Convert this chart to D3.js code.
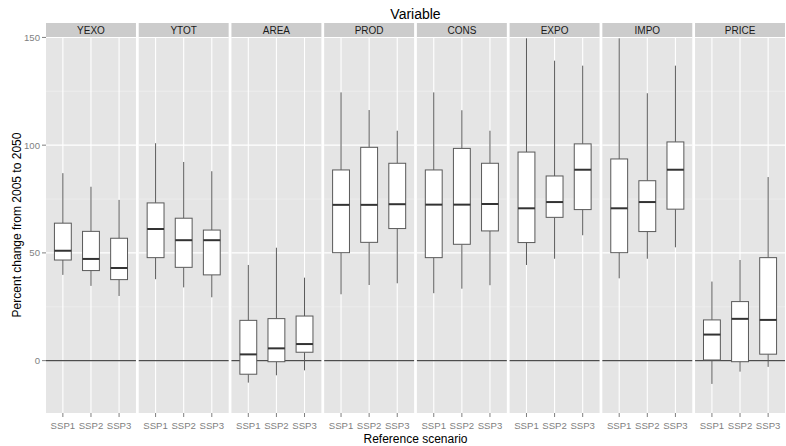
<!DOCTYPE html>
<html>
<head>
<meta charset="utf-8">
<script src="https://cdn.jsdelivr.net/npm/d3@7"></script>
<style>
  html, body { margin: 0; padding: 0; background: #ffffff; }
  svg { display: block; font-family: "Liberation Sans", Arial, sans-serif; }
</style>
</head>
<body>
<svg id="chart" width="786" height="446"></svg>
<script>
// ---- Data ----
const variables = ["YEXO", "YTOT", "AREA", "PROD", "CONS", "EXPO", "IMPO", "PRICE"];
const scenarios = ["SSP1", "SSP2", "SSP3"];
const yTicks = [0, 50, 100, 150];
const yMinorTicks = [25, 75, 125];

// one row per variable, one column per scenario
const whiskerLow = [
  [39.8, 34.7, 30.0],
  [37.8, 34.0, 29.4],
  [-10.2, -6.8, -4.5],
  [30.8, 35.1, 35.9],
  [31.3, 33.4, 35.0],
  [44.4, 47.3, 58.2],
  [38.2, 47.3, 52.6],
  [-10.8, -5.1, -2.9]
];
const q1 = [
  [46.7, 41.8, 37.6],
  [47.8, 43.3, 39.8],
  [-6.3, -0.5, 3.9],
  [50.1, 54.9, 61.3],
  [47.8, 54.0, 60.2],
  [54.8, 66.5, 70.1],
  [50.1, 59.9, 70.3],
  [0.3, -0.5, 3.0]
];
const median = [
  [51.0, 47.2, 43.0],
  [61.1, 55.9, 55.9],
  [2.9, 5.7, 7.7],
  [72.3, 72.3, 72.6],
  [72.4, 72.4, 72.7],
  [70.7, 73.6, 88.6],
  [70.7, 73.6, 88.6],
  [12.1, 19.4, 18.9]
];
const q3 = [
  [63.8, 60.0, 56.8],
  [73.2, 66.1, 60.6],
  [18.7, 19.5, 20.7],
  [88.5, 99.0, 91.6],
  [88.5, 98.5, 91.6],
  [96.8, 85.7, 100.6],
  [93.6, 83.5, 101.5],
  [18.9, 27.4, 47.8]
];
const whiskerHigh = [
  [87.0, 80.7, 74.6],
  [100.9, 92.2, 87.9],
  [44.4, 52.4, 38.5],
  [124.5, 116.3, 106.7],
  [124.5, 116.2, 106.7],
  [149.6, 139.2, 136.9],
  [149.6, 124.1, 136.9],
  [36.7, 46.7, 85.2]
];

// ---- Layout ----
const svg = d3.select("#chart");
const plotLeft = 46, plotRight = 785;
const stripTop = 23, stripBottom = 37;
const panelTop = 37, panelBottom = 413;

const fx = d3.scaleBand().domain(variables).range([plotLeft, plotRight])
  .paddingInner(0.03).paddingOuter(0);
const y = d3.scaleLinear().domain([-24.3, 150.2]).range([panelBottom, panelTop]);
const x = d3.scalePoint().domain(scenarios).range([0, fx.bandwidth()]).padding(0.6);
const boxW = x.step() * 0.6;

const rows = [];
variables.forEach((v, i) => scenarios.forEach((s, j) => rows.push({
  v, s, lo: whiskerLow[i][j], q1: q1[i][j], med: median[i][j], q3: q3[i][j], hi: whiskerHigh[i][j]
})));

// title
svg.append("text").attr("x", (plotLeft + plotRight) / 2).attr("y", 19)
  .attr("text-anchor", "middle").attr("font-size", 14).attr("fill", "#000")
  .text("Variable");

const panels = svg.selectAll("g.panel").data(variables).join("g")
  .attr("class", "panel")
  .attr("transform", d => `translate(${fx(d)},0)`);

// strips
panels.append("rect").attr("x", 0).attr("y", stripTop)
  .attr("width", fx.bandwidth()).attr("height", stripBottom - stripTop)
  .attr("fill", "#cccccc");
panels.append("text").attr("x", fx.bandwidth() / 2).attr("y", stripTop + 10.5)
  .attr("text-anchor", "middle").attr("font-size", 10).attr("fill", "#1a1a1a")
  .text(d => d);

// panel background
panels.append("rect").attr("x", 0).attr("y", panelTop)
  .attr("width", fx.bandwidth()).attr("height", panelBottom - panelTop)
  .attr("fill", "#e5e5e5");

// minor grid
panels.each(function () {
  const g = d3.select(this);
  g.selectAll("line.minor").data(yMinorTicks).join("line")
    .attr("x1", 0).attr("x2", fx.bandwidth())
    .attr("y1", d => y(d)).attr("y2", d => y(d))
    .attr("stroke", "#f2f2f2").attr("stroke-width", 0.6);
  g.selectAll("line.major").data(yTicks).join("line")
    .attr("x1", 0).attr("x2", fx.bandwidth())
    .attr("y1", d => y(d)).attr("y2", d => y(d))
    .attr("stroke", "#ffffff").attr("stroke-width", 1.1);
  g.selectAll("line.vmajor").data(scenarios).join("line")
    .attr("x1", d => x(d)).attr("x2", d => x(d))
    .attr("y1", panelTop).attr("y2", panelBottom)
    .attr("stroke", "#ffffff").attr("stroke-width", 1.1);
  // reference line at 0
  g.append("line").attr("x1", 0).attr("x2", fx.bandwidth())
    .attr("y1", y(0)).attr("y2", y(0))
    .attr("stroke", "#4d4d4d").attr("stroke-width", 1.1);
  // x axis ticks & labels
  g.selectAll("line.xtick").data(scenarios).join("line")
    .attr("x1", d => x(d)).attr("x2", d => x(d))
    .attr("y1", panelBottom).attr("y2", panelBottom + 4)
    .attr("stroke", "#7f7f7f").attr("stroke-width", 1);
  g.selectAll("text.xlab").data(scenarios).join("text")
    .attr("x", d => x(d)).attr("y", panelBottom + 16)
    .attr("text-anchor", "middle").attr("font-size", 9.6).attr("fill", "#7f7f7f")
    .text(d => d);
});

// boxplots
const boxes = panels.selectAll("g.box")
  .data(v => rows.filter(r => r.v === v)).join("g")
  .attr("class", "box")
  .attr("transform", d => `translate(${x(d.s)},0)`);

boxes.append("line").attr("x1", 0).attr("x2", 0)
  .attr("y1", d => y(d.hi)).attr("y2", d => y(d.q3))
  .attr("stroke", "#595959").attr("stroke-width", 1);
boxes.append("line").attr("x1", 0).attr("x2", 0)
  .attr("y1", d => y(d.q1)).attr("y2", d => y(d.lo))
  .attr("stroke", "#595959").attr("stroke-width", 1);
boxes.append("rect").attr("x", -boxW / 2).attr("width", boxW)
  .attr("y", d => y(d.q3)).attr("height", d => y(d.q1) - y(d.q3))
  .attr("fill", "#ffffff").attr("stroke", "#595959").attr("stroke-width", 1);
boxes.append("line").attr("x1", -boxW / 2).attr("x2", boxW / 2)
  .attr("y1", d => y(d.med)).attr("y2", d => y(d.med))
  .attr("stroke", "#333333").attr("stroke-width", 2);

// y axis
const yAxisG = svg.append("g");
yAxisG.selectAll("line").data(yTicks).join("line")
  .attr("x1", plotLeft - 4).attr("x2", plotLeft)
  .attr("y1", d => y(d)).attr("y2", d => y(d))
  .attr("stroke", "#7f7f7f").attr("stroke-width", 1);
yAxisG.selectAll("text").data(yTicks).join("text")
  .attr("x", plotLeft - 6).attr("y", d => y(d) + 3.5)
  .attr("text-anchor", "end").attr("font-size", 9.6).attr("fill", "#7f7f7f")
  .text(d => d);

// axis titles
svg.append("text").attr("x", (plotLeft + plotRight) / 2).attr("y", 443)
  .attr("text-anchor", "middle").attr("font-size", 12).attr("fill", "#000")
  .text("Reference scenario");
svg.append("text")
  .attr("transform", `translate(21,${(panelTop + panelBottom) / 2}) rotate(-90)`)
  .attr("text-anchor", "middle").attr("font-size", 12).attr("fill", "#000")
  .text("Percent change from 2005 to 2050");
</script>
</body>
</html>
